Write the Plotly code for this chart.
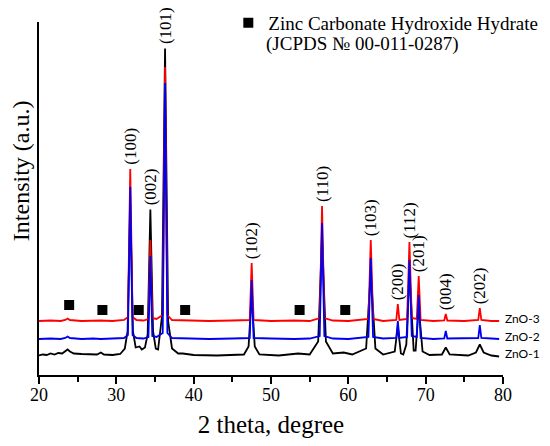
import numpy as np
import plotly.graph_objects as go

# sampling positions (2 theta) shared by ZnO-2 and ZnO-3
x_fine = [20.0, 21.5, 22.8, 23.4, 23.7, 24.0, 25.5, 27.0, 28.0, 29.5,
          31.0, 31.5, 31.8, 32.1, 32.6, 33.5, 34.15, 34.4, 34.65, 35.2,
          36.0, 36.3, 36.6, 37.2, 39.0, 42.0, 45.0, 47.25, 47.5, 47.75,
          50.0, 53.0, 55.0, 56.3, 56.6, 56.9, 58.0, 60.0, 62.6, 62.9,
          63.2, 64.5, 66.2, 66.4, 66.6, 67.6, 67.9, 68.2, 68.85, 69.1,
          69.35, 71.0, 72.4, 72.6, 72.8, 75.0, 76.8, 77.0, 77.2, 78.5, 79.5]

zno3 = [0, 0.5, 0, 1, 2.5, 1, 0, 0.5, 0.5, 0,
        1, 4, 152, 4, 1, 0.5, 2, 81, 3, 2,
        6, 254, 6, 1, 0.5, 0, 0.5, 1, 58, 1,
        0, 0.5, 0, 3, 115, 3, 0.5, 0, 2, 81,
        2, 0, 1, 17, 1, 2, 79, 3, 2, 45,
        1, 0, 0.5, 7, 0.5, 0, 1, 13, 1, 0, 0]

zno2 = [0, 0.5, 0, 1, 2.5, 1, 0, 0.5, 0, 0.5,
        1, 4, 152, 4, 1, 0.5, 2, 83, 3, 2,
        6, 256, 6, 1, 0.5, 0, 0.5, 1, 59, 1,
        0.5, 0, 0.5, 3, 116, 3, 0.5, 0, 2, 81,
        2, 0.5, 1, 18, 1, 2, 79, 3, 2, 44,
        1, 0, 0.5, 8, 0.5, 0.5, 1, 14, 1, 0.5, 0]

# ZnO-1 has broader peaks and a noisier baseline
x_zno1 = [20.0, 20.5, 21.0, 21.5, 22.0, 22.5, 23.0, 23.4, 23.7, 24.0,
          24.5, 25.5, 26.5, 27.5, 28.0, 28.4, 29.5, 30.5, 31.1, 31.45,
          31.8, 32.15, 32.5, 33.0, 33.3, 33.7, 34.05, 34.4, 34.75, 35.1,
          35.4, 35.9, 36.3, 36.7, 37.2, 38.0, 38.6, 40.0, 43.0, 46.5,
          47.1, 47.5, 47.9, 48.5, 51.0, 53.5, 55.0, 56.1, 56.6, 57.1,
          58.0, 59.4, 60.5, 62.3, 62.9, 63.5, 64.5, 66.0, 66.4, 66.8,
          67.1, 67.5, 67.9, 68.45, 68.7, 69.1, 69.6, 70.5, 72.1, 72.6,
          73.1, 75.5, 76.5, 77.0, 77.5, 78.5, 79.5]

zno1 = [1, 2, 1.5, 3, 2, 3.5, 3, 5, 7, 5,
        3, 2.5, 2, 2, 4, 2, 1.5, 2.5, 8, 25,
        150, 25, 9, 10, 7, 9, 22, 147, 25, 8,
        7, 40, 308, 35, 8, 3, 3, 1.5, 1, 2,
        10, 62, 10, 2, 1, 3, 2, 15, 120, 15,
        3, 4, 2, 8, 85, 8, 2, 5, 30, 3,
        2, 12, 85, 6, 6, 50, 5, 1.5, 2, 9,
        2, 1, 4, 12, 4, 1, 0]

sample_names = ["ZnO-1", "ZnO-2", "ZnO-3"]
sample_offsets = [0, 17.5, 35.5]
sample_colors = ["#000000", "#0000f0", "#ff0000"]

# ZnO reflections
peak_pos = [31.8, 34.4, 36.3, 47.5, 56.6, 62.9, 66.4, 67.9, 69.1, 72.6, 77.0]
peak_labels = ["(100)", "(002)", "(101)", "(102)", "(110)", "(103)",
               "(200)", "(112)", "(201)", "(004)", "(202)"]

# zinc carbonate hydroxide hydrate markers
zchh_x = [23.9, 28.2, 32.9, 38.9, 53.7, 59.6]
zchh_y = [51.5, 46.5, 46.5, 46.5, 46.5, 46.5]

series = [(x_zno1, zno1), (x_fine, zno2), (x_fine, zno3)]

fig = go.Figure()
# draw order: black, red, blue on top
for i in [0, 2, 1]:
    xs, ys = series[i]
    fig.add_trace(go.Scatter(
        x=xs, y=np.array(ys) + sample_offsets[i], mode="lines",
        line=dict(color=sample_colors[i], width=1.8),
        showlegend=False, hoverinfo="skip"))

fig.add_trace(go.Scatter(
    x=zchh_x, y=zchh_y, mode="markers",
    marker=dict(symbol="square", size=10, color="black"),
    name="Zinc Carbonate Hydroxide Hydrate"))

serif = "Liberation Serif, Times New Roman, serif"

annotations = []
for pos, lab in zip(peak_pos, peak_labels):
    top = max(np.interp(pos, xs, np.array(ys) + sample_offsets[i])
              for i, (xs, ys) in enumerate(series))
    annotations.append(dict(
        x=pos, y=top, text=lab, textangle=-90, showarrow=False,
        xanchor="center", yanchor="bottom", yshift=2,
        font=dict(family=serif, size=17, color="black")))

for i, name in enumerate(sample_names):
    annotations.append(dict(
        x=1.0, xref="paper", y=sample_offsets[i] + 3, text=name,
        showarrow=False, xanchor="left", yanchor="middle",
        font=dict(family="Lato, Open Sans, sans-serif", size=12, color="black")))

# second line of the legend entry
annotations.append(dict(
    x=0.484, xref="paper", y=0.938, yref="paper", text="(JCPDS № 00-011-0287)",
    showarrow=False, xanchor="left", yanchor="middle",
    font=dict(family=serif, size=19, color="black")))

# y axis title (sits above the middle of the axis)
annotations.append(dict(
    x=-0.039, xref="paper", y=0.58, yref="paper", text="Intensity (a.u.)",
    textangle=-90, showarrow=False, xanchor="center", yanchor="middle",
    font=dict(family=serif, size=24, color="black")))

# page body adds an 8px margin, so the figure is shifted 8px right and down
fig.update_layout(
    width=542, height=430,
    margin=dict(l=31, r=47, t=14, b=63, autoexpand=False),
    plot_bgcolor="white", paper_bgcolor="white",
    font=dict(family=serif, color="black"),
    annotations=annotations,
    legend=dict(x=0.408, y=1.051, xanchor="left", yanchor="top",
                valign="top", bgcolor="rgba(0,0,0,0)",
                font=dict(family=serif, size=19, color="black")),
    xaxis=dict(
        range=[20, 80], showgrid=False, zeroline=False,
        showline=True, linecolor="black", linewidth=1.5,
        ticks="outside", tickwidth=1.5, ticklen=7, tickcolor="black",
        dtick=10, tick0=20, ticklabelstandoff=-4,
        minor=dict(ticks="outside", dtick=5, ticklen=5, tickwidth=1.5,
                   tickcolor="black", showgrid=False),
        tickfont=dict(family=serif, size=18),
        title=dict(text="2 theta, degree", font=dict(family=serif, size=25),
                   standoff=18),
    ),
    yaxis=dict(
        range=[-18.5, 334.5], showgrid=False, zeroline=False,
        showline=True, linecolor="black", linewidth=1.5,
        showticklabels=False, ticks="",
    ),
)

fig.write_html("out.html")
